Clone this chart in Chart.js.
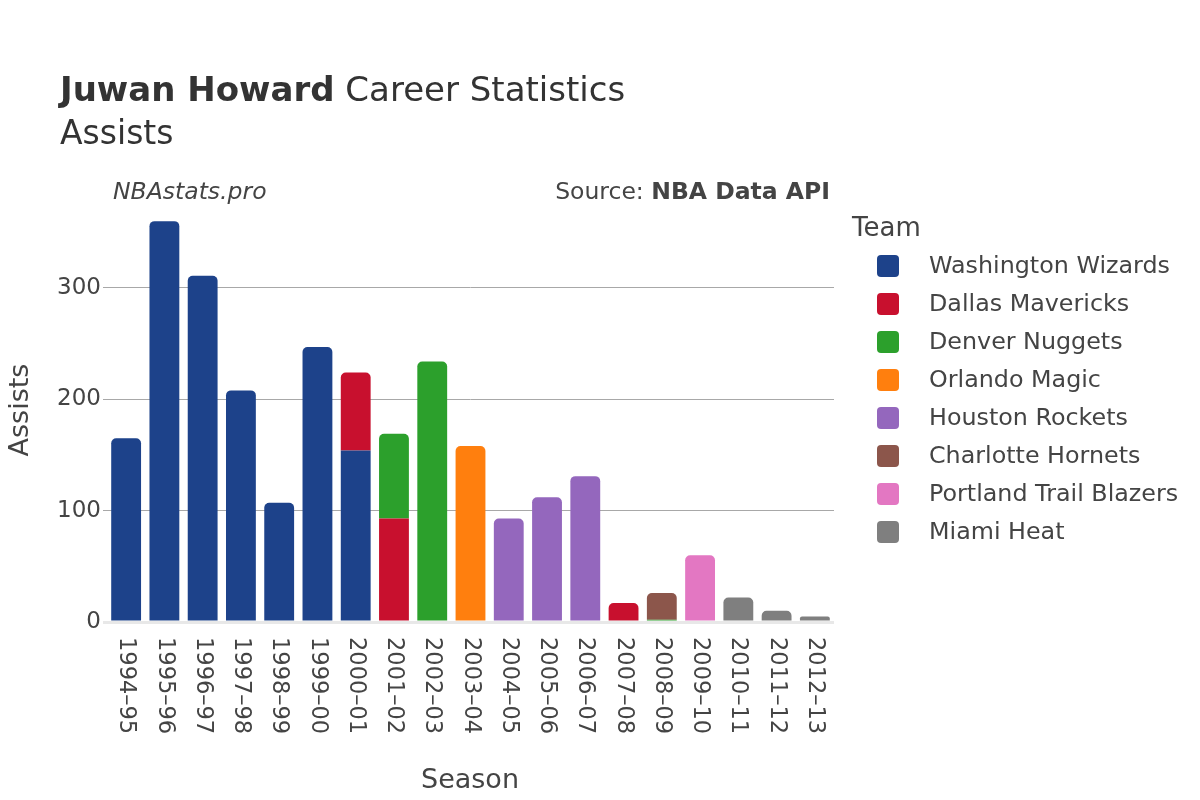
<!DOCTYPE html>
<html>
<head>
<meta charset="utf-8">
<script src="https://cdn.jsdelivr.net/npm/chart.js@4"></script>
<style>
  html, body { margin: 0; padding: 0; background: #fff; }
  #wrap { width: 1200px; height: 800px; }
</style>
</head>
<body>
<div id="wrap"><canvas id="careerChart" width="1200" height="800"></canvas></div>
<script>
const seasons = ['1994–95', '1995–96', '1996–97', '1997–98', '1998–99', '1999–00', '2000–01',
  '2001–02', '2002–03', '2003–04', '2004–05', '2005–06', '2006–07', '2007–08', '2008–09',
  '2009–10', '2010–11', '2011–12', '2012–13']

const teams = ['Washington Wizards', 'Dallas Mavericks', 'Denver Nuggets', 'Orlando Magic',
  'Houston Rockets', 'Charlotte Hornets', 'Portland Trail Blazers', 'Miami Heat']

const teamColors = ['#1d428a', '#c8102e', '#2ca02c', '#ff7f0e', '#9467bd', '#8c564b', '#e377c2', '#7f7f7f']

// assists per season, null where he didn't play for that team
const wizards   = [165, 360, 311, 208, 107, 247, 154, null, null, null, null, null, null, null, null, null, null, null, null]
const mavericks = [null, null, null, null, null, null, 70, 93, null, null, null, null, null, 17, null, null, null, null, null]
const nuggets   = [null, null, null, null, null, null, null, 76, 234, null, null, null, null, null, 2, null, null, null, null]
const magic     = [null, null, null, null, null, null, null, null, null, 158, null, null, null, null, null, null, null, null, null]
const rockets   = [null, null, null, null, null, null, null, null, null, null, 93, 112, 131, null, null, null, null, null, null]
const hornets   = [null, null, null, null, null, null, null, null, null, null, null, null, null, null, 24, null, null, null, null]
const blazers   = [null, null, null, null, null, null, null, null, null, null, null, null, null, null, null, 60, null, null, null]
const heat      = [null, null, null, null, null, null, null, null, null, null, null, null, null, null, null, null, 22, 10, 5]

const yTicks = [0, 100, 200, 300]

const teamValues = [wizards, mavericks, nuggets, magic, rockets, hornets, blazers, heat]

const FONT = "'DejaVu Sans', sans-serif"
const TEXT = '#444'

// draws titles, rotated season labels, axis titles and the legend
const decorations = {
  id: 'decorations',
  afterDraw(chart) {
    const ctx = chart.ctx
    const xScale = chart.scales.x
    ctx.save()
    ctx.fillStyle = '#333'
    ctx.textBaseline = 'alphabetic'
    ctx.textAlign = 'left'
    ctx.font = 'bold 34px ' + FONT
    ctx.fillText('Juwan Howard', 60, 101)
    const w = ctx.measureText('Juwan Howard').width
    ctx.font = '34px ' + FONT
    ctx.fillText(' Career Statistics', 60 + w, 101)
    ctx.font = '33px ' + FONT
    ctx.fillText('Assists', 60, 144)

    ctx.fillStyle = TEXT
    ctx.font = 'italic 23.5px ' + FONT
    ctx.fillText('NBAstats.pro', 113, 199)
    ctx.textAlign = 'right'
    ctx.font = 'bold 23.5px ' + FONT
    ctx.fillText('NBA Data API', 830, 199)
    const bw = ctx.measureText('NBA Data API').width
    ctx.font = '23.5px ' + FONT
    ctx.fillText('Source: ', 830 - bw, 199)

    // season labels, rotated clockwise
    ctx.font = '22.5px ' + FONT
    ctx.textAlign = 'left'
    ctx.textBaseline = 'middle'
    seasons.forEach((s, i) => {
      const x = xScale.getPixelForTick(i)
      ctx.save()
      ctx.translate(x, 637)
      ctx.rotate(Math.PI / 2)
      ctx.fillText(s, 0, 0)
      ctx.restore()
    })

    // axis titles
    ctx.font = '27px ' + FONT
    ctx.textAlign = 'center'
    ctx.textBaseline = 'alphabetic'
    ctx.fillText('Season', 470, 788)
    ctx.save()
    ctx.translate(28, 410)
    ctx.rotate(-Math.PI / 2)
    ctx.fillText('Assists', 0, 0)
    ctx.restore()

    // legend
    ctx.textAlign = 'left'
    ctx.font = '26px ' + FONT
    ctx.fillText('Team', 852, 236)
    ctx.font = '23.8px ' + FONT
    ctx.textBaseline = 'middle'
    teams.forEach((t, i) => {
      const y = 266 + i * 38
      ctx.fillStyle = teamColors[i]
      ctx.beginPath()
      ctx.roundRect(877, y - 11, 22, 22, 4)
      ctx.fill()
      ctx.fillStyle = TEXT
      ctx.fillText(t, 929, y + 1)
    })
    ctx.restore()
  }
}

new Chart(document.getElementById('careerChart'), {
  type: 'bar',
  data: {
    labels: seasons,
    datasets: teams.map((t, i) => ({
      label: t,
      data: teamValues[i],
      backgroundColor: teamColors[i],
      borderRadius: 5,
      borderSkipped: 'start',
      categoryPercentage: 1,
      barPercentage: 0.78
    }))
  },
  options: {
    responsive: false,
    animation: false,
    layout: { padding: { left: 0, top: 200, right: 366, bottom: 0 } },
    plugins: {
      legend: { display: false },
      title: { display: false },
      tooltip: { enabled: false }
    },
    scales: {
      x: {
        stacked: true,
        grid: { display: false },
        border: { display: false },
        ticks: { display: false },
        afterFit(scale) { scale.height = 178 }
      },
      y: {
        stacked: true,
        min: 0,
        max: 379,
        border: { display: false },
        grid: {
          color: ctx => ctx.tick && ctx.tick.value === 0 ? '#e8e8e8' : '#a8a8a8',
          lineWidth: ctx => ctx.tick && ctx.tick.value === 0 ? 3 : 1,
          tickLength: 4
        },
        afterBuildTicks(scale) { scale.ticks = yTicks.map(v => ({ value: v })) },
        ticks: {
          font: { family: FONT, size: 23 },
          color: TEXT,
          padding: 2
        },
        afterFit(scale) { scale.width = 107 }
      }
    }
  },
  plugins: [decorations]
})
</script>
</body>
</html>
